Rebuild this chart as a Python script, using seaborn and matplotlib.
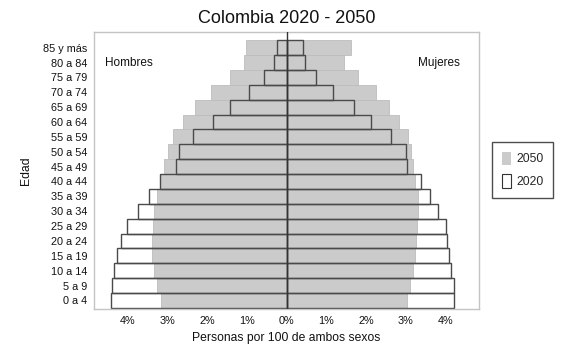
import matplotlib
matplotlib.use("Agg")
import matplotlib.pyplot as plt
import seaborn as sns
import numpy as np
import pandas as pd
from matplotlib.patches import Patch

# age groups, top to bottom
edades = ["85 y más", "80 a 84", "75 a 79", "70 a 74", "65 a 69", "60 a 64",
          "55 a 59", "50 a 54", "45 a 49", "40 a 44", "35 a 39", "30 a 34",
          "25 a 29", "20 a 24", "15 a 19", "10 a 14", "5 a 9", "0 a 4"]

# % of total population
hombres_2050 = [1.01, 1.08, 1.42, 1.91, 2.30, 2.60, 2.87, 2.99, 3.09, 3.18,
                3.27, 3.33, 3.36, 3.38, 3.38, 3.33, 3.26, 3.17]
hombres_2020 = [0.24, 0.32, 0.56, 0.95, 1.42, 1.86, 2.35, 2.72, 2.78, 3.19,
                3.46, 3.73, 4.03, 4.16, 4.26, 4.35, 4.40, 4.43]
mujeres_2050 = [1.62, 1.46, 1.79, 2.25, 2.59, 2.84, 3.07, 3.13, 3.19, 3.24,
                3.31, 3.32, 3.30, 3.27, 3.24, 3.19, 3.11, 3.03]
mujeres_2020 = [0.42, 0.47, 0.74, 1.18, 1.69, 2.14, 2.63, 3.00, 3.03, 3.40,
                3.62, 3.82, 4.02, 4.05, 4.09, 4.15, 4.21, 4.22]

xticks = [-4, -3, -2, -1, 0, 1, 2, 3, 4]
xticklabels = ["4%", "3%", "2%", "1%", "0%", "1%", "2%", "3%", "4%"]

sns.set_theme(style="white")
plt.rcParams["font.family"] = ["Liberation Sans", "DejaVu Sans"]

df = pd.DataFrame({
    "edad": edades,
    "h2050": -np.array(hombres_2050),
    "h2020": -np.array(hombres_2020),
    "m2050": mujeres_2050,
    "m2020": mujeres_2020,
})

fig = plt.figure(figsize=(5.87, 3.47), dpi=100)
ax = fig.add_axes([94 / 587, 1 - 309.3 / 347, 385 / 587, 277 / 347])

gris = "#cbcbcb"
borde = "#4a4a4a"

# 2050 in grey behind
for col in ["h2050", "m2050"]:
    sns.barplot(data=df, x=col, y="edad", order=edades, orient="h",
                color=gris, width=1.0, saturation=1, edgecolor="#bdbdbd",
                linewidth=0.6, ax=ax)
# 2020 as outlines on top
for col in ["h2020", "m2020"]:
    sns.barplot(data=df, x=col, y="edad", order=edades, orient="h",
                color=borde, fill=False, width=1.0, saturation=1,
                linewidth=1.0, ax=ax)

ax.axvline(0, color="#333333", lw=1.0, zorder=5)

ax.set_xlim(-4.85, 4.85)
ax.set_ylim(17.6, -1.04)
ax.set_xticks(xticks)
ax.set_xticklabels(xticklabels)
ax.tick_params(axis="both", length=0, labelsize=7.8, colors="#111111")
ax.tick_params(axis="x", pad=5)
ax.tick_params(axis="y", pad=5)
for s in ax.spines.values():
    s.set_color("#c4c4c4")
    s.set_linewidth(1.0)

ax.set_xlabel("Personas por 100 de ambos sexos", fontsize=8.7, labelpad=4,
              color="#111111")
ax.set_ylabel("Edad", fontsize=8.7, labelpad=8, color="#111111")
ax.set_title("Colombia 2020 - 2050", fontsize=13, pad=7, color="#111111")

ax.text(0.028, 0.89, "Hombres", transform=ax.transAxes, fontsize=8.5,
        ha="left", va="center", color="#111111")
ax.text(0.951, 0.89, "Mujeres", transform=ax.transAxes, fontsize=8.5,
        ha="right", va="center", color="#111111")

handles = [Patch(facecolor=gris, edgecolor="none", label="2050"),
           Patch(facecolor="white", edgecolor="#333333", linewidth=0.8, label="2020")]
leg = fig.legend(handles=handles, loc="upper left",
                 bbox_to_anchor=(492 / 587, 1 - 142 / 347),
                 frameon=True, fancybox=False, fontsize=8.7,
                 handlelength=0.8, handleheight=1.3, handletextpad=0.4,
                 borderpad=0.8, labelspacing=0.75, borderaxespad=0)
leg.get_frame().set_edgecolor("#222222")
leg.get_frame().set_linewidth(1.0)

fig.savefig("out.png", dpi=100)
